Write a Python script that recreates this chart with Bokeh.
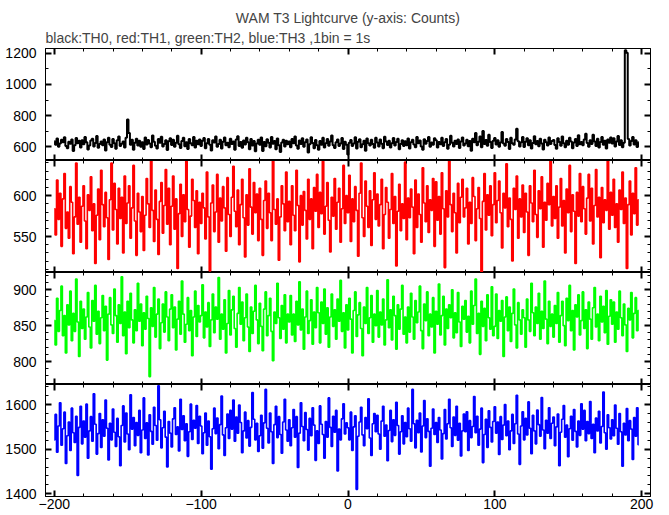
import numpy as np
from bokeh.plotting import figure
from bokeh.models import (Range1d, LinearAxis, Title, SingleIntervalTicker,
                          CustomLabelingPolicy)
from bokeh.layouts import column
from bokeh.embed import file_html
from bokeh.resources import INLINE

# ---------------- data (counts per 1 s bin, starting at t = -200 s) ----------------
t_start = -200

th0 = [
634,611,652,598,619,644,627,660,603,589,631,618,645,572,609,655,622,637,594,640,
615,662,628,581,606,639,651,600,623,668,592,617,633,609,646,575,628,657,612,597,
649,621,586,640,665,603,618,632,594,656,775,688,612,644,579,625,651,606,637,599,
627,584,659,613,642,620,596,671,631,605,588,648,624,663,601,617,640,577,634,654,
610,643,598,625,669,614,590,636,657,602,628,584,649,621,608,662,593,638,615,646,
603,637,655,589,622,648,611,574,640,626,665,598,617,643,587,631,658,609,624,595,
651,616,633,580,645,667,604,629,592,639,613,656,627,582,648,606,635,569,620,643,
612,658,571,630,602,647,625,593,661,618,636,583,652,609,565,626,644,601,637,615,
632,596,648,621,664,607,585,639,616,653,598,627,645,561,614,660,623,589,642,608,
580,636,611,657,594,622,649,605,633,671,609,590,628,646,603,619,655,584,631,612,
548,625,642,603,619,660,588,631,647,596,614,638,573,652,621,606,643,617,592,657,
626,601,645,618,589,663,632,610,638,594,621,655,607,629,650,583,616,640,604,634,
608,652,587,628,644,613,596,661,622,639,601,579,647,618,635,662,599,626,611,653,
641,593,630,615,657,604,627,648,585,612,669,624,600,637,616,646,591,633,659,606,
619,644,602,636,573,650,628,687,609,631,664,596,700,617,642,605,676,629,591,638,
655,613,640,598,626,693,619,605,648,630,584,657,621,612,645,715,634,601,627,662,
597,631,654,609,640,587,623,666,614,636,602,650,619,581,644,628,606,659,617,635,
642,610,586,653,629,605,664,621,596,638,611,657,633,589,626,648,603,672,615,630,
608,646,683,623,599,640,617,676,632,604,651,594,629,661,612,637,588,645,624,659,
619,653,601,632,668,610,641,595,625,1220,1205,648,606,635,662,613,640,597,628,
]

th1 = [
584,552,619,571,603,538,596,627,560,580,548,611,592,529,574,640,565,598,543,587,
612,569,535,601,582,623,557,590,517,576,608,546,631,589,562,604,573,522,595,640,
558,615,583,541,609,572,598,530,624,566,591,612,548,585,637,569,527,603,580,556,
599,533,576,621,590,561,646,582,544,607,571,528,593,616,554,588,632,565,609,540,
587,624,559,596,511,578,614,550,601,568,642,583,537,575,620,594,561,606,529,592,
566,603,585,547,629,574,508,591,613,556,580,626,543,597,569,611,585,532,622,577,
550,598,636,581,562,607,540,589,620,573,525,601,564,633,586,553,616,579,602,545,
609,571,527,594,618,560,603,579,545,648,583,565,596,521,574,612,590,557,629,568,
593,540,612,576,557,631,588,519,600,564,605,582,547,620,571,596,535,610,581,626,
561,604,578,642,553,587,616,570,531,598,575,621,559,592,609,543,584,637,566,600,
579,625,544,596,568,611,582,526,603,640,573,550,618,587,561,606,539,595,628,571,
602,563,589,620,535,577,610,592,548,583,627,566,599,514,581,614,557,590,572,641,
546,597,573,608,586,529,619,561,602,577,543,634,591,568,612,555,595,582,621,538,
617,570,599,553,628,584,512,606,574,647,589,556,603,579,530,615,567,598,620,574,
585,609,541,592,566,622,599,545,584,610,572,501,593,627,558,601,576,612,551,589,
628,567,594,618,579,536,603,585,639,562,597,571,520,609,583,624,548,596,574,613,
555,603,580,527,612,591,568,631,577,549,606,584,623,537,592,570,615,589,650,563,
599,572,612,548,586,621,563,594,530,608,579,637,556,601,581,517,604,575,627,568,
611,584,553,597,626,569,609,541,588,632,574,598,524,610,567,595,582,643,559,604,
576,620,561,590,543,607,583,629,566,597,511,589,618,552,603,578,634,564,595,
]

th2 = [
857,823,888,842,871,905,836,864,812,879,851,898,829,867,842,915,855,807,884,846,
873,831,862,896,848,819,885,856,906,838,870,825,861,892,843,877,802,866,889,851,
839,901,864,827,879,853,918,836,869,811,884,847,895,858,826,872,843,909,856,880,
822,868,845,891,860,779,875,849,903,834,866,887,818,854,880,841,897,862,829,873,
893,847,876,816,859,884,838,912,866,827,852,889,843,871,808,862,898,835,878,855,
864,907,833,869,848,882,821,858,894,840,876,859,917,831,866,845,886,812,853,899,
837,872,891,846,820,867,903,852,883,829,861,894,848,814,876,839,870,906,858,825,
881,849,815,873,897,836,864,888,842,801,869,853,909,861,832,878,845,893,826,866,
855,892,837,866,828,884,851,911,844,873,817,862,898,839,857,886,824,869,847,903,
868,826,883,853,901,838,875,820,862,894,849,872,831,887,856,913,842,868,819,879,
844,888,859,812,871,897,835,865,882,846,808,876,853,903,839,861,892,827,866,850,
899,834,869,851,887,823,858,914,847,872,830,891,864,817,879,845,873,906,838,862,
826,876,841,895,862,831,885,854,869,905,843,818,880,857,897,836,866,848,889,812,
870,852,908,837,864,891,823,873,846,879,861,900,833,868,840,896,855,821,877,859,
885,841,863,826,898,852,878,915,839,867,810,884,849,874,829,893,861,845,904,836,
849,894,832,871,856,885,807,862,890,843,876,828,867,901,851,819,882,858,838,872,
861,820,887,858,842,909,868,836,876,853,895,831,870,846,912,859,825,884,849,866,
834,878,853,896,827,864,884,850,822,888,857,906,843,871,816,879,862,893,837,857,
897,846,872,818,883,859,831,875,903,848,866,829,891,855,877,840,899,824,863,886,
852,883,827,869,845,898,861,836,880,851,814,874,858,896,833,867,889,843,871,
]

th3 = [
1521,1578,1493,1552,1604,1509,1546,1583,1468,1530,1561,1497,1592,1537,1515,1574,1441,1549,1596,1512,
1563,1527,1601,1480,1541,1573,1518,1624,1556,1489,1535,1580,1504,1566,1529,1610,1547,1476,1558,1521,
1590,1538,1506,1569,1528,1463,1553,1597,1516,1581,1534,1499,1622,1545,1571,1508,1560,1531,1587,1492,
1543,1615,1524,1559,1487,1577,1540,1511,1594,1553,1520,1642,1566,1503,1548,1585,1527,1460,1562,1536,
1505,1568,1593,1533,1550,1496,1612,1544,1575,1519,1557,1484,1539,1601,1522,1565,1547,1598,1513,1574,
1552,1490,1537,1581,1509,1563,1528,1455,1546,1592,1535,1570,1501,1555,1619,1532,1486,1548,1579,1524,
1587,1545,1610,1518,1572,1536,1599,1560,1492,1541,1583,1525,1564,1507,1549,1627,1567,1521,1558,1495,
1530,1576,1502,1559,1634,1547,1514,1581,1539,1468,1555,1596,1526,1573,1533,1491,1561,1612,1543,1518,
1566,1508,1548,1589,1527,1573,1459,1536,1604,1551,1519,1582,1544,1498,1569,1530,1593,1554,1475,1541,
1513,1597,1556,1533,1480,1562,1527,1615,1549,1506,1574,1538,1587,1451,1545,1521,1568,1602,1534,1559,
1548,1521,1583,1497,1550,1575,1410,1529,1561,1594,1532,1508,1571,1546,1613,1525,1486,1557,1580,1539,
1576,1534,1500,1563,1596,1529,1554,1474,1542,1587,1517,1566,1531,1605,1553,1489,1539,1575,1512,1560,
1528,1592,1546,1518,1634,1557,1503,1565,1537,1581,1494,1552,1609,1526,1568,1540,1462,1547,1590,1533,
1560,1515,1571,1543,1478,1535,1589,1523,1557,1612,1548,1506,1572,1531,1596,1520,1558,1485,1541,1579,
1539,1584,1497,1564,1526,1551,1618,1537,1574,1509,1545,1592,1470,1533,1567,1504,1586,1549,1516,1562,
1595,1536,1561,1488,1573,1522,1554,1600,1530,1563,1499,1541,1578,1513,1557,1621,1534,1466,1552,1584,
1521,1569,1532,1606,1547,1490,1576,1541,1512,1588,1555,1529,1616,1543,1501,1565,1536,1593,1524,1558,
1572,1508,1550,1579,1463,1538,1567,1598,1527,1554,1483,1546,1574,1520,1589,1540,1505,1563,1531,1602,
1545,1587,1519,1562,1535,1607,1524,1556,1492,1570,1541,1585,1514,1551,1628,1537,1500,1577,1548,1523,
1566,1530,1599,1547,1511,1580,1539,1462,1558,1532,1591,1519,1564,1545,1477,1571,1529,1593,1510,
]

series = [th0, th1, th2, th3]
colors = ["black", "red", "#00ff00", "blue"]
y_ranges = [(510, 1232), (506, 643), (768, 924), (1394, 1645)]
y_major = [200, 50, 50, 100]
y_minor_n = [2, 5, 5, 5]

main_title = "WAM T3 Lightcurve (y-axis: Counts)"
sub_title = "black:TH0, red:TH1, green:TH2, blue:TH3 ,1bin = 1s"

FONT = "Liberation Sans"
x_range = Range1d(-206, 206)

def style_axis(ax, show_labels, standoff=9):
    ax.major_tick_in = 6
    ax.major_tick_out = 0
    ax.minor_tick_in = 3
    ax.minor_tick_out = 0
    ax.major_tick_line_width = 2
    ax.minor_tick_line_width = 1
    ax.major_tick_line_color = "black"
    ax.minor_tick_line_color = "black"
    ax.axis_line_color = "black"
    ax.axis_line_width = 1
    if show_labels:
        ax.major_label_text_font = FONT
        ax.major_label_text_font_size = "14px"
        ax.major_label_text_color = "black"
        ax.major_label_standoff = standoff
    else:
        ax.major_label_text_font_size = "0px"
        ax.major_label_standoff = 0
        ax.major_label_policy = CustomLabelingPolicy(
            code="for (const i of indices) { indices.unset(i) }\nreturn indices")

heights = [160, 112, 112, 131]
figs = []
for i, (vals, col, yr) in enumerate(zip(series, colors, y_ranges)):
    x = np.arange(t_start, t_start + len(vals))
    p = figure(width=669, height=heights[i], x_range=x_range,
               y_range=Range1d(*yr), output_backend="svg",
               toolbar_location=None, x_axis_location=None, y_axis_location=None,
               min_border_left=45, min_border_right=19,
               min_border_top=48 if i == 0 else 0,
               min_border_bottom=19 if i == 3 else 0)
    p.grid.visible = False
    p.outline_line_color = "black"
    p.outline_line_width = 1
    p.background_fill_color = "white"
    p.border_fill_color = "white"

    yt = SingleIntervalTicker(interval=y_major[i], num_minor_ticks=y_minor_n[i])
    xt = SingleIntervalTicker(interval=100, num_minor_ticks=5)
    left = LinearAxis(ticker=yt)
    style_axis(left, True, 9)
    right = LinearAxis(ticker=yt)
    style_axis(right, False)
    bottom = LinearAxis(ticker=xt)
    style_axis(bottom, i == 3, 2)
    top = LinearAxis(ticker=xt)
    style_axis(top, False)
    p.add_layout(left, "left")
    p.add_layout(right, "right")
    p.add_layout(bottom, "below")
    p.add_layout(top, "above")

    if i == 0:
        p.add_layout(Title(text=sub_title, align="left", text_font=FONT,
                           text_font_size="14px", text_font_style="normal",
                           standoff=5), "above")
        p.add_layout(Title(text=main_title, align="center", text_font=FONT,
                           text_font_size="14px", text_font_style="normal",
                           standoff=0), "above")

    p.step(x, vals, mode="center", line_color=col,
           line_width=2.0 if i == 0 else 1.6)
    figs.append(p)

layout = column(*figs, spacing=0)
open("out.html", "w").write(file_html(layout, INLINE))
